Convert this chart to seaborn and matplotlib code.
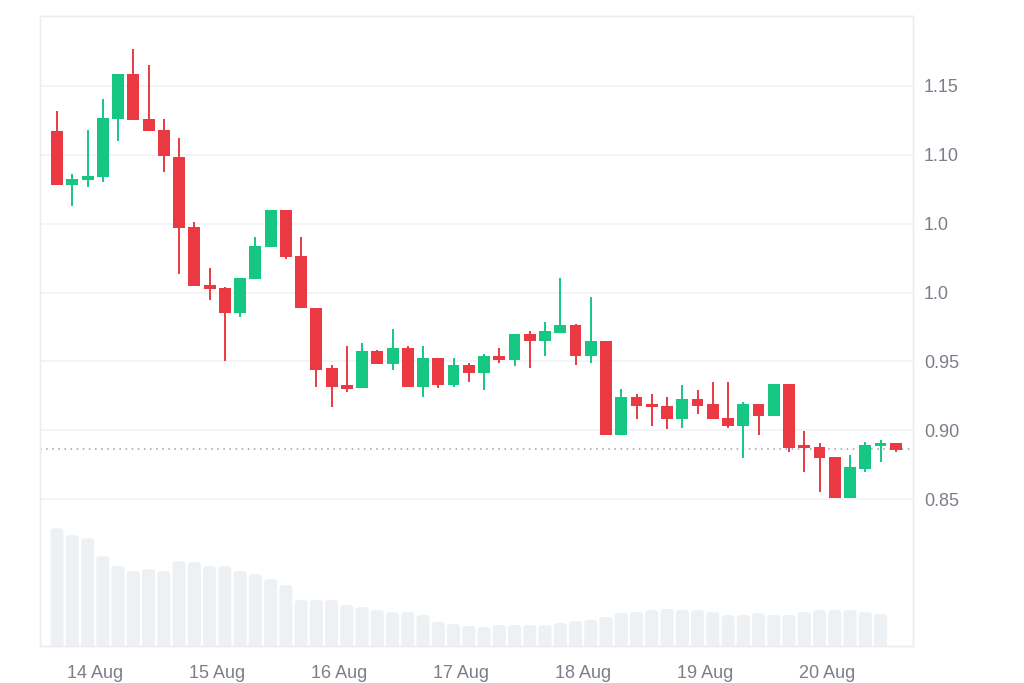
import numpy as np
import pandas as pd
import matplotlib
matplotlib.use("Agg")
import matplotlib.pyplot as plt
from matplotlib.patches import FancyBboxPatch
import seaborn as sns

# 3-hourly candles, 13 Aug 16:30 -> 20 Aug 13:30
opens = [1.1169, 1.0778, 1.0814, 1.0841, 1.1261, 1.1589, 1.1259, 1.1181, 1.0983, 1.0478,
         1.0056, 1.0034, 0.9850, 1.0099, 1.0333, 1.0601, 1.0268, 0.9889, 0.9451, 0.9326,
         0.9304, 0.9575, 0.9478, 0.9599, 0.9317, 0.9524, 0.9328, 0.9476, 0.9415, 0.9538,
         0.9514, 0.9698, 0.9650, 0.9710, 0.9761, 0.9538, 0.9650, 0.8969, 0.9239, 0.9190,
         0.9179, 0.9080, 0.9227, 0.9190, 0.9092, 0.9031, 0.9190, 0.9107, 0.9338, 0.8881,
         0.8881, 0.8807, 0.8512, 0.8722, 0.8886, 0.8906]
highs = [1.1319, 1.0860, 1.1181, 1.1404, 1.1589, 1.1766, 1.1654, 1.1259, 1.1121, 1.0514,
         1.0179, 1.0043, 1.0107, 1.0404, 1.0601, 1.0601, 1.0404, 0.9889, 0.9476, 0.9611,
         0.9636, 0.9585, 0.9734, 0.9611, 0.9611, 0.9524, 0.9524, 0.9490, 0.9551, 0.9599,
         0.9698, 0.9722, 0.9783, 1.0107, 0.9773, 0.9971, 0.9650, 0.9302, 0.9266, 0.9266,
         0.9241, 0.9326, 0.9290, 0.9353, 0.9353, 0.9203, 0.9190, 0.9338, 0.9338, 0.8993,
         0.8906, 0.8807, 0.8819, 0.8918, 0.8933, 0.8906]
lows = [1.0778, 1.0630, 1.0766, 1.0802, 1.1101, 1.1249, 1.1174, 1.0875, 1.0136, 1.0046,
        0.9949, 0.9502, 0.9824, 1.0099, 1.0333, 1.0244, 0.9889, 0.9317, 0.9169, 0.9280,
        0.9304, 0.9478, 0.9437, 0.9317, 0.9244, 0.9304, 0.9317, 0.9353, 0.9292, 0.9489,
        0.9464, 0.9451, 0.9538, 0.9710, 0.9476, 0.9489, 0.8969, 0.8969, 0.9080, 0.9031,
        0.9007, 0.9020, 0.9118, 0.9080, 0.9020, 0.8797, 0.8969, 0.9107, 0.8846, 0.8698,
        0.8551, 0.8512, 0.8512, 0.8698, 0.8769, 0.8846]
closes = [1.0778, 1.0821, 1.0848, 1.1266, 1.1589, 1.1249, 1.1174, 1.0988, 1.0469, 1.0046,
          1.0027, 0.9850, 1.0107, 1.0340, 1.0601, 1.0256, 0.9889, 0.9440, 0.9317, 0.9302,
          0.9575, 0.9478, 0.9599, 0.9317, 0.9524, 0.9328, 0.9476, 0.9415, 0.9538, 0.9512,
          0.9698, 0.9650, 0.9722, 0.9761, 0.9538, 0.9650, 0.8969, 0.9239, 0.9179, 0.9167,
          0.9080, 0.9227, 0.9179, 0.9080, 0.9031, 0.9190, 0.9107, 0.9338, 0.8870, 0.8870,
          0.8797, 0.8512, 0.8734, 0.8894, 0.8906, 0.8859]

# volume (arbitrary units), last candle has no bar yet
volume = [11.8, 11.1, 10.8, 9.0, 8.0, 7.5, 7.7, 7.5, 8.5, 8.4,
          8.0, 8.0, 7.5, 7.2, 6.7, 6.1, 4.6, 4.6, 4.6, 4.1,
          3.9, 3.6, 3.4, 3.4, 3.1, 2.4, 2.2, 2.0, 1.9, 2.1,
          2.1, 2.1, 2.1, 2.3, 2.5, 2.6, 2.9, 3.3, 3.4, 3.6,
          3.7, 3.6, 3.6, 3.4, 3.1, 3.1, 3.3, 3.1, 3.1, 3.4,
          3.6, 3.6, 3.6, 3.4, 3.2]

last_price = 0.8862
day_labels = ["14 Aug", "15 Aug", "16 Aug", "17 Aug", "18 Aug", "19 Aug", "20 Aug"]
price_ticks = [0.85, 0.90, 0.95, 1.00, 1.05, 1.10, 1.15]
price_labels = ["0.85", "0.90", "0.95", "1.0", "1.0", "1.10", "1.15"]

UP = "#16c784"
DOWN = "#ea3943"
GRID = "#eff2f5"
TEXT = "#7a7f88"
VOL = "#eef1f4"

df = pd.DataFrame({"open": opens, "high": highs, "low": lows, "close": closes})
df["idx"] = np.arange(len(df))
df["color"] = np.where(df["close"] >= df["open"], UP, DOWN)
df["body_lo"] = df[["open", "close"]].min(axis=1)
df["body_h"] = (df["close"] - df["open"]).abs().clip(lower=0.0022)

vol_df = pd.DataFrame({"idx": np.arange(len(volume)), "volume": volume})

sns.set_theme(style="white")
plt.rcParams["font.family"] = ["Liberation Sans", "DejaVu Sans"]

fig = plt.figure(figsize=(10.24, 6.83), dpi=100)
ax = fig.add_axes([40 / 1024, 1 - 646 / 683, 873 / 1024, 630 / 683])

# volume underneath, on its own scale
ax_vol = ax.twinx()
sns.barplot(data=vol_df, x="idx", y="volume", native_scale=True, width=0.86,
            color=VOL, saturation=1, errorbar=None, ax=ax_vol)
ax_vol.set_ylim(0, max(volume) * 5.35)

# round the bar tops (bottom corners sit below the axis and get clipped)
for p in list(ax_vol.patches):
    x0, w, h = p.get_x(), p.get_width(), p.get_height()
    rb = FancyBboxPatch((x0, -1.0), w, h + 1.0,
                        boxstyle="round,pad=0,rounding_size=0.2",
                        mutation_aspect=1.5, facecolor=VOL, edgecolor="none")
    p.remove()
    ax_vol.add_patch(rb)

ax_vol.set_yticks([])
ax_vol.set_ylabel("")
ax_vol.set_xlabel("")
ax_vol.set_zorder(0)
ax.set_zorder(1)
ax.patch.set_visible(False)

# candles
ax.vlines(df["idx"], df["low"], df["high"], colors=df["color"], linewidth=1.4, zorder=3)
ax.bar(df["idx"], df["body_h"], bottom=df["body_lo"], width=0.78,
       color=df["color"], linewidth=0, zorder=4)

ax.axhline(last_price, color="#9aa0a6", linestyle=(0, (1, 3)), linewidth=1.1, zorder=2)

ax.set_xlim(-1.12, 56.13)
ax.set_ylim(0.7435, 1.2007)
ax.set_xticks([2.5 + 8 * k for k in range(len(day_labels))])
ax.set_xticklabels(day_labels)
ax.yaxis.tick_right()
ax.set_yticks(price_ticks)
ax.set_yticklabels(price_labels)
ax.tick_params(axis="both", length=0, labelsize=13, labelcolor=TEXT)
ax.tick_params(axis="x", pad=14)
ax.tick_params(axis="y", pad=8)
ax.grid(axis="y", color=GRID, linewidth=1.1)
ax.set_xlabel("")
ax.set_ylabel("")

for a in (ax, ax_vol):
    for s in a.spines.values():
        s.set_color("#ebedf0")
        s.set_linewidth(1)

fig.savefig("out.png", dpi=100, facecolor="white")
